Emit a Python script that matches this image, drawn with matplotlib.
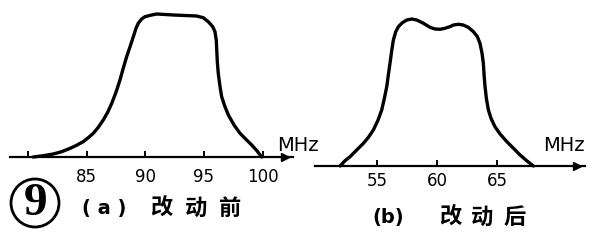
#!/usr/bin/python

"""
Filter response before / after the change: two hand-drawn style passband curves.
"""

import matplotlib
matplotlib.use('Agg')
import matplotlib.pyplot as plt
from matplotlib.patches import Circle

# constants
W, H = 601, 243
CJK = ['Noto Sans CJK SC', 'DejaVu Sans']

# (a) before the change
FREQ_A = [80.45, 81.3, 82.16, 82.87, 83.58, 84.15, 84.71, 85.14, 85.57, 85.99,
          86.42, 86.79, 87.14, 87.5, 87.84, 88.12, 88.41, 88.7, 88.98, 89.21,
          89.4, 89.69, 89.97, 90.55, 90.97, 92.39, 94.38, 94.94, 95.37, 95.75,
          95.94, 96.05, 96.09, 96.14, 96.22, 96.37, 96.51, 96.79, 97.08, 97.56,
          98.07, 98.58, 99.07, 99.5, 99.92]
RESP_A = [0.0, 0.009, 0.021, 0.037, 0.06, 0.082, 0.107, 0.135, 0.166, 0.207,
          0.259, 0.312, 0.375, 0.452, 0.538, 0.62, 0.701, 0.771, 0.841, 0.9,
          0.935, 0.965, 0.981, 0.993, 1.0, 0.993, 0.986, 0.974, 0.946, 0.911,
          0.876, 0.818, 0.748, 0.666, 0.585, 0.492, 0.422, 0.352, 0.294, 0.224,
          0.166, 0.124, 0.084, 0.045, 0.0]
TICKS_A = [80, 85, 90, 95, 100]
LABELS_A = ['', '85', '90', '95', '100']

# (b) after the change
FREQ_B = [51.92, 52.33, 52.75, 53.31, 53.86, 54.28, 54.69, 55.06, 55.39, 55.61,
          55.81, 55.94, 56.08, 56.23, 56.36, 56.56, 56.78, 57.11, 57.48, 57.89,
          58.31, 58.86, 59.42, 59.83, 60.25, 60.67, 61.08, 61.36, 61.78, 62.19,
          62.61, 63.03, 63.36, 63.58, 63.75, 63.86, 63.92, 64.0, 64.11, 64.28,
          64.5, 64.83, 65.25, 65.81, 66.36, 66.92, 67.47, 68.03]
RESP_B = [0.0, 0.036, 0.063, 0.109, 0.154, 0.195, 0.245, 0.308, 0.381, 0.46,
          0.54, 0.619, 0.699, 0.789, 0.857, 0.914, 0.948, 0.975, 0.993, 1.0,
          0.993, 0.971, 0.943, 0.932, 0.93, 0.937, 0.948, 0.959, 0.964, 0.959,
          0.943, 0.914, 0.88, 0.834, 0.766, 0.699, 0.619, 0.54, 0.46, 0.381,
          0.324, 0.267, 0.218, 0.166, 0.121, 0.075, 0.036, 0.0]
TICKS_B = [55, 60, 65]
LABELS_B = ['55', '60', '65']

CAPTION_A = ['( a )', '改', '动', '前']
CAPTION_B = ['(b)', '改', '动', '后']


def px_box(x0, y0, x1, y1):
    "Pixel box (top-left origin) to figure fraction rect."
    return [x0 / W, 1 - y1 / H, (x1 - x0) / W, (y1 - y0) / H]


def make_panel(fig, box, xlim, freq, resp, ticks, labels, pad):
    ax = fig.add_axes(px_box(*box))
    ax.set_xlim(*xlim)
    ax.set_ylim(0, 1)
    for side in ('top', 'right', 'left'):
        ax.spines[side].set_visible(False)
    ax.spines['bottom'].set_linewidth(1.6)
    ax.set_yticks([])
    ax.set_xticks(ticks)
    ax.set_xticklabels(labels, fontsize=12, family='DejaVu Sans')
    ax.tick_params(axis='x', direction='in', length=4, width=1.4, pad=pad)
    ax.patch.set_alpha(0)

    # the response curve
    ax.plot(freq, resp, color='k', lw=2.4, solid_capstyle='round',
            solid_joinstyle='round', clip_on=False)
    # arrow head on the frequency axis
    ax.plot(0.97, 0, '>', color='k', ms=6, transform=ax.transAxes, clip_on=False)
    return ax


def caption(ax, x0, y, parts, offset, step):
    "Writes a caption; the wide scan lettering is imitated with a fixed step."
    ax.text(x0, y, parts[0], fontsize=14, family='DejaVu Sans', fontweight='bold',
            ha='center', va='center')
    for i, ch in enumerate(parts[1:]):
        ax.text(x0 + offset + i * step, y, ch, fontsize=16, family=CJK,
                fontweight='bold', ha='center', va='center')


def main():
    fig = plt.figure(figsize=(W / 100, H / 100), dpi=100)

    make_panel(fig, (10, 14, 293, 157), (78.47, 102.59), FREQ_A, RESP_A,
               TICKS_A, LABELS_A, 8)
    make_panel(fig, (315, 19, 585, 166), (49.83, 72.33), FREQ_B, RESP_B,
               TICKS_B, LABELS_B, 4.5)

    # overlay in pixel units for the free text
    over = fig.add_axes([0, 0, 1, 1])
    over.set_xlim(0, W)
    over.set_ylim(H, 0)
    over.axis('off')
    over.patch.set_alpha(0)

    over.text(277, 145, 'MHz', fontsize=14, family='DejaVu Sans', va='center')
    over.text(543, 145, 'MHz', fontsize=14, family='DejaVu Sans', va='center')

    # figure number in a circle
    over.add_patch(Circle((35, 203), 24, fill=False, lw=2.0, color='k'))
    over.text(36, 204, '9', fontsize=34, family='Liberation Serif',
              fontweight='bold', ha='center', va='center')

    caption(over, 104, 208, CAPTION_A, 57, 34.5)
    caption(over, 388, 217, CAPTION_B, 62, 32.5)

    plt.savefig('out.png', dpi=100)


if __name__ == "__main__":
    main()
